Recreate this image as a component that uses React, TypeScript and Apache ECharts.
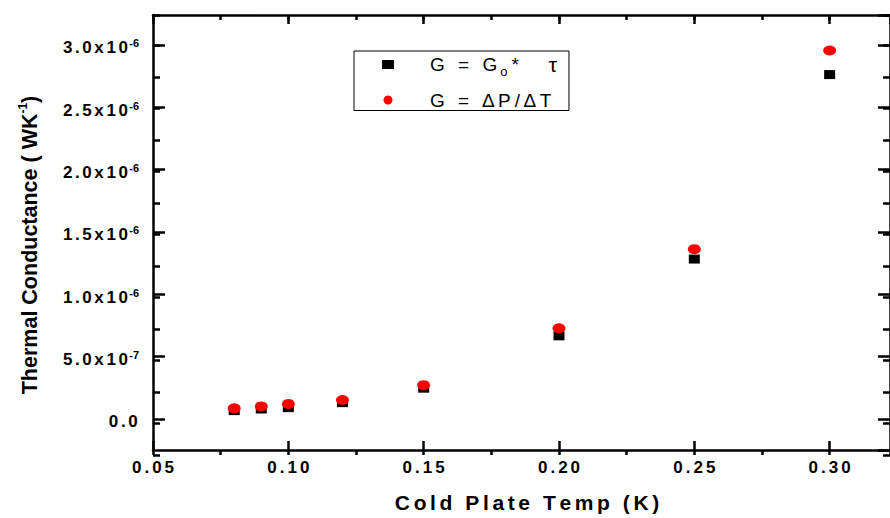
import React, { useEffect, useRef } from "react";
import * as echarts from "echarts";

// Cold plate temperature (K)
const temps = [0.08, 0.09, 0.1, 0.12, 0.15, 0.2, 0.25, 0.3];
// Thermal conductance, in units of 1e-6 W/K
const gTau = [0.066, 0.079, 0.09, 0.13, 0.246, 0.666, 1.282, 2.762];
const gDelta = [0.084, 0.1, 0.12, 0.151, 0.27, 0.726, 1.361, 2.955];

const S1 = "G = G0* τ";
const S2 = "G = ∆P/∆T";
const X_NAME = "Cold Plate Temp (K)";

const X_MIN = 0.05;
const X_MAX = 0.3223;
const Y_MIN = -0.25;
const Y_MAX = 3.24;

const FONT = "Arial, 'Liberation Sans', sans-serif";

// split a string into per-character rich tokens (gives letter spacing)
function sp(s: string, style: string): string {
  return s
    .split("")
    .map((c) => "{" + style + "|" + c + "}")
    .join("");
}

function yLabel(v: number): string {
  const r = Math.round(v * 100) / 100;
  if (Math.abs(r) < 1e-9) return sp("0.0", "b");
  if (Math.abs(r - 0.5) < 1e-9) return sp("5.0x10", "b") + "{sup|-7}";
  if (Math.abs(r * 2 - Math.round(r * 2)) > 1e-6) return "";
  return sp(r.toFixed(1) + "x10", "b") + "{sup|-6}";
}

export default function App() {
  const ref = useRef<HTMLDivElement>(null);
  useEffect(() => {
    if (!ref.current) return;
    const chart = echarts.init(ref.current, undefined, { renderer: "svg" });
    const axisLine = { show: true, onZero: false, lineStyle: { color: "#000", width: 2.5 } };
    const noLine = { show: false, onZero: false };
    const gridPos = { left: 153, top: 15, right: -2, bottom: 63 };
    const tick = (len: number) => ({
      inside: true,
      length: len,
      lineStyle: { width: 2.5, color: "#000" },
    });
    chart.setOption({
      animation: false,
      backgroundColor: "#fff",
      grid: [{ ...gridPos }, { ...gridPos }],
      legend: {
        left: 354,
        top: 51,
        orient: "vertical",
        borderColor: "#000",
        borderWidth: 1,
        padding: [3, 10, 1, 28],
        itemGap: 13,
        itemWidth: 12,
        itemHeight: 9,
        data: [
          { name: S1, icon: "rect" },
          { name: S2, icon: "circle" },
        ],
        formatter: (name: string) =>
          name === S1
            ? sp("G = G", "t") + "{sub|o}" + sp("*   ", "t") + "{tau|τ}"
            : sp("G = ∆P/∆T", "t"),
        textStyle: {
          padding: [0, 0, 0, 29],
          rich: {
            t: {
              fontSize: 19,
              fontFamily: FONT,
              color: "#000",
              lineHeight: 26,
              padding: [0, 2, 0, 2],
            },
            tau: {
              fontSize: 21,
              fontFamily: FONT,
              color: "#000",
              lineHeight: 26,
              padding: [0, 2, 0, 0],
            },
            sub: {
              fontSize: 13,
              fontFamily: FONT,
              color: "#000",
              lineHeight: 13,
              verticalAlign: "bottom",
              padding: [0, 2, 0, 1],
            },
          },
        },
      },
      xAxis: [
        {
          gridIndex: 0,
          type: "value",
          position: "bottom",
          min: X_MIN,
          max: X_MAX,
          interval: 0.05,
          axisLine,
          axisTick: tick(9),
          splitLine: { show: false },
          axisLabel: {
            showMaxLabel: false,
            margin: 9,
            formatter: (v: number) => sp(v.toFixed(2), "b"),
            rich: {
              b: {
                fontSize: 17,
                fontWeight: "bold",
                fontFamily: FONT,
                color: "#000",
                padding: [0, 1.5, 0, 1.5],
              },
            },
          },
          name: sp(X_NAME, "n"),
          nameLocation: "middle",
          nameGap: 42,
          nameTextStyle: {
            padding: [0, 0, 0, 11],
            rich: {
              n: {
                fontSize: 21,
                fontWeight: "bold",
                fontFamily: FONT,
                color: "#000",
                padding: [0, 1.8, 0, 1.8],
              },
            },
          },
        },
        {
          gridIndex: 0,
          type: "value",
          position: "top",
          min: X_MIN,
          max: X_MAX,
          interval: 0.05,
          axisLine,
          axisTick: tick(9),
          splitLine: { show: false },
          axisLabel: { show: false },
        },
        {
          gridIndex: 1,
          type: "value",
          position: "bottom",
          min: X_MIN,
          max: X_MAX,
          interval: 0.025,
          axisLine: noLine,
          axisTick: tick(5),
          splitLine: { show: false },
          axisLabel: { show: false },
        },
        {
          gridIndex: 1,
          type: "value",
          position: "top",
          min: X_MIN,
          max: X_MAX,
          interval: 0.025,
          axisLine: noLine,
          axisTick: tick(5),
          splitLine: { show: false },
          axisLabel: { show: false },
        },
      ],
      yAxis: [
        {
          gridIndex: 0,
          type: "value",
          position: "left",
          min: Y_MIN,
          max: Y_MAX,
          splitNumber: 7,
          axisLine,
          axisTick: tick(12),
          splitLine: { show: false },
          axisLabel: {
            showMinLabel: false,
            showMaxLabel: false,
            margin: 14,
            padding: [6, 0, 0, 0],
            formatter: yLabel,
            rich: {
              b: {
                fontSize: 17,
                fontWeight: "bold",
                fontFamily: FONT,
                color: "#000",
                lineHeight: 20,
                padding: [0, 1.3, 0, 1.3],
              },
              sup: {
                fontSize: 11,
                fontWeight: "bold",
                fontFamily: FONT,
                color: "#000",
                lineHeight: 10,
                verticalAlign: "top",
              },
            },
          },
        },
        {
          gridIndex: 0,
          type: "value",
          position: "right",
          min: Y_MIN,
          max: Y_MAX,
          splitNumber: 7,
          axisLine,
          axisTick: tick(12),
          splitLine: { show: false },
          axisLabel: { show: false },
        },
        {
          gridIndex: 1,
          type: "value",
          position: "left",
          min: Y_MIN,
          max: Y_MAX,
          interval: 0.25,
          axisLine: noLine,
          axisTick: tick(7),
          splitLine: { show: false },
          axisLabel: { show: false },
        },
        {
          gridIndex: 1,
          type: "value",
          position: "right",
          min: Y_MIN,
          max: Y_MAX,
          interval: 0.25,
          axisLine: noLine,
          axisTick: tick(7),
          splitLine: { show: false },
          axisLabel: { show: false },
        },
      ],
      graphic: [
        {
          type: "text",
          x: 30,
          y: 245,
          rotation: Math.PI / 2,
          style: {
            text: "{t|Thermal Conductance ( WK}{sup|-1}{t|)}",
            align: "center",
            verticalAlign: "middle",
            rich: {
              t: {
                fontSize: 21.5,
                fontWeight: "bold",
                fontFamily: "'Liberation Sans Narrow', Arial, sans-serif",
                fill: "#000",
                lineHeight: 26,
              },
              sup: {
                fontSize: 12,
                fontWeight: "bold",
                fontFamily: "'Liberation Sans Narrow', Arial, sans-serif",
                fill: "#000",
                lineHeight: 12,
                verticalAlign: "top",
              },
            },
          },
        },
      ],
      series: [
        {
          name: S1,
          type: "scatter",
          xAxisIndex: 0,
          yAxisIndex: 0,
          symbol: "rect",
          symbolSize: [11, 9],
          itemStyle: { color: "#000", opacity: 1 },
          data: temps.map((t, i) => [t, gTau[i]]),
          z: 2,
        },
        {
          name: S2,
          type: "scatter",
          xAxisIndex: 0,
          yAxisIndex: 0,
          symbol: "circle",
          symbolSize: [13, 10],
          itemStyle: { color: "#ff0000", opacity: 1 },
          data: temps.map((t, i) => [t, gDelta[i]]),
          z: 3,
        },
      ],
    });
    return () => chart.dispose();
  }, []);
  return (
    <div
      ref={ref}
      style={{ position: "absolute", left: 0, top: 0, width: 890, height: 518 }}
    />
  );
}
